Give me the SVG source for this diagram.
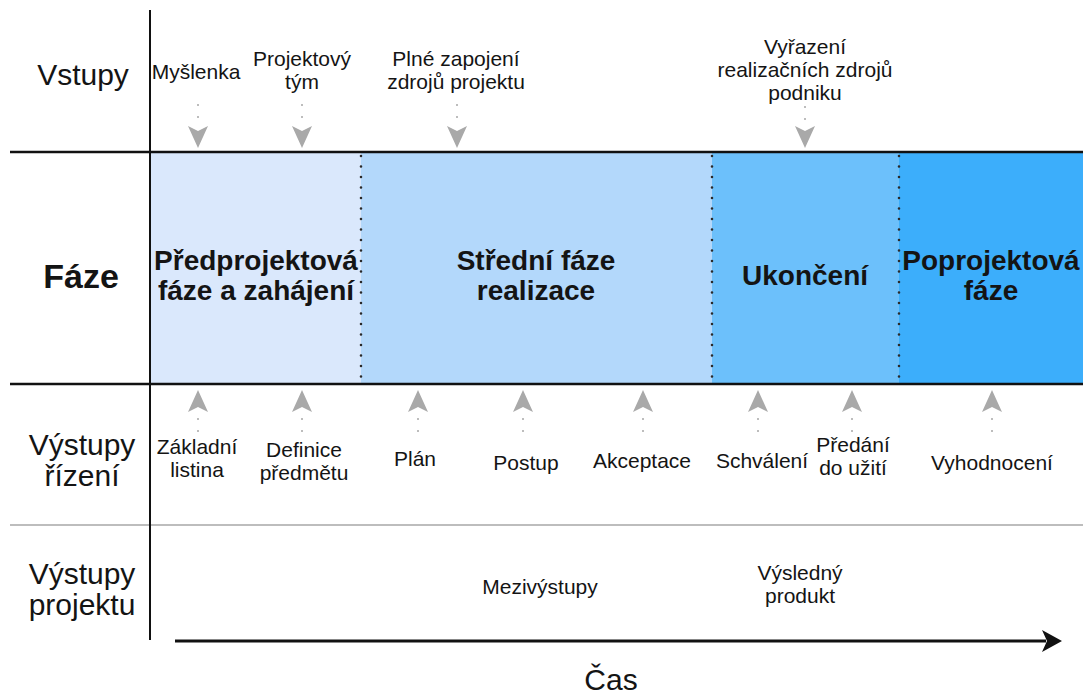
<svg xmlns="http://www.w3.org/2000/svg" width="1083" height="695" viewBox="0 0 1083 695">
<style>
text{font-family:"Liberation Sans",Arial,sans-serif;fill:#141414;text-anchor:middle}
.h{font-size:30px}
.hb{font-size:34px;font-weight:bold}
.p{font-size:28px;font-weight:bold}
.l{font-size:21px}
.dots{stroke:#bdbdbd;stroke-width:2;stroke-dasharray:2 10;fill:none}
.ah{fill:#a9a9a9}
.div{stroke:#2a2a2a;stroke-width:2.6;stroke-dasharray:0 10.5;stroke-linecap:round}
</style>
<defs>
<polygon id="down" class="ah" points="0,0 -10,-22 0,-17 10,-22"/>
<polygon id="up" class="ah" points="0,0 -10,22 0,17 10,22"/>
</defs>
<g id="phases">
<g id="phase1"><rect x="150" y="152" width="211" height="232" fill="#dae8fc"/><text class="p" x="256" y="270">Předprojektová</text><text class="p" x="256" y="300">fáze a zahájení</text></g>
<g id="phase2"><rect x="361" y="152" width="351" height="232" fill="#b3d8fb"/><text class="p" x="536" y="270">Střední fáze</text><text class="p" x="536" y="300">realizace</text></g>
<g id="phase3"><rect x="712" y="152" width="187" height="232" fill="#6cc0fb"/><text class="p" x="805" y="285">Ukončení</text></g>
<g id="phase4"><rect x="899" y="152" width="184" height="232" fill="#3caefb"/><text class="p" x="991" y="270">Poprojektová</text><text class="p" x="991" y="300">fáze</text></g>
<line class="div" x1="361" y1="156" x2="361" y2="382"/>
<line class="div" x1="712" y1="156" x2="712" y2="382"/>
<line class="div" x1="899" y1="156" x2="899" y2="382"/>
</g>
<g id="grid">
<line x1="10" y1="152" x2="1083" y2="152" stroke="#111" stroke-width="2.5"/>
<line x1="10" y1="384" x2="1083" y2="384" stroke="#111" stroke-width="2.5"/>
<line x1="10" y1="525" x2="1083" y2="525" stroke="#bdbdbd" stroke-width="2"/>
<line x1="150" y1="10" x2="150" y2="640" stroke="#111" stroke-width="2"/>
</g>
<g id="rowlabels">
<text class="h" x="83" y="85">Vstupy</text>
<text class="hb" x="81" y="288">Fáze</text>
<text class="h" x="82" y="455">Výstupy</text><text class="h" x="82" y="486">řízení</text>
<text class="h" x="82" y="584">Výstupy</text><text class="h" x="82" y="615">projektu</text>
</g>
<g id="inputs">
<g id="in1"><text class="l" x="196" y="79">Myšlenka</text></g>
<g id="in2"><text class="l" x="302" y="66">Projektový</text><text class="l" x="302" y="89">tým</text></g>
<g id="in3"><text class="l" x="456" y="66">Plné zapojení</text><text class="l" x="456" y="89">zdrojů projektu</text></g>
<g id="in4"><text class="l" x="805" y="54">Vyřazení</text><text class="l" x="805" y="77">realizačních zdrojů</text><text class="l" x="805" y="100">podniku</text></g>
</g>
<g id="outputs">
<g id="o1"><text class="l" x="197" y="454">Základní</text><text class="l" x="197" y="477">listina</text></g>
<g id="o2"><text class="l" x="304" y="457">Definice</text><text class="l" x="304" y="480">předmětu</text></g>
<g id="o3"><text class="l" x="415" y="466">Plán</text></g>
<g id="o4"><text class="l" x="526" y="470">Postup</text></g>
<g id="o5"><text class="l" x="642" y="468">Akceptace</text></g>
<g id="o6"><text class="l" x="762" y="468">Schválení</text></g>
<g id="o7"><text class="l" x="853" y="452">Předání</text><text class="l" x="853" y="475">do užití</text></g>
<g id="o8"><text class="l" x="992" y="470">Vyhodnocení</text></g>
</g>
<g id="products">
<g id="pr1"><text class="l" x="540" y="594">Mezivýstupy</text></g>
<g id="pr2"><text class="l" x="800" y="580">Výsledný</text><text class="l" x="800" y="603">produkt</text></g>
</g>
<g id="connectors">
<line class="dots" x1="198" y1="104" x2="198" y2="128"/><use href="#down" x="198" y="148"/>
<line class="dots" x1="302" y1="104" x2="302" y2="128"/><use href="#down" x="302" y="148"/>
<line class="dots" x1="457" y1="104" x2="457" y2="128"/><use href="#down" x="457" y="148"/>
<line class="dots" x1="805" y1="106" x2="805" y2="128"/><use href="#down" x="805" y="148"/>
<line class="dots" x1="198" y1="418" x2="198" y2="434"/><use href="#up" x="198" y="390"/>
<line class="dots" x1="302" y1="418" x2="302" y2="434"/><use href="#up" x="302" y="390"/>
<line class="dots" x1="418" y1="418" x2="418" y2="434"/><use href="#up" x="418" y="390"/>
<line class="dots" x1="523" y1="418" x2="523" y2="434"/><use href="#up" x="523" y="390"/>
<line class="dots" x1="643" y1="418" x2="643" y2="434"/><use href="#up" x="643" y="390"/>
<line class="dots" x1="758" y1="418" x2="758" y2="434"/><use href="#up" x="758" y="390"/>
<line class="dots" x1="852" y1="418" x2="852" y2="434"/><use href="#up" x="852" y="390"/>
<line class="dots" x1="992" y1="418" x2="992" y2="434"/><use href="#up" x="992" y="390"/>
<line x1="175" y1="641" x2="1046" y2="641" stroke="#111" stroke-width="3"/>
<polygon points="1062,641 1042,630 1047,641 1042,652" fill="#111"/>
</g>
<g id="timelabel"><text class="h" x="611" y="690">Čas</text></g>
</svg>
